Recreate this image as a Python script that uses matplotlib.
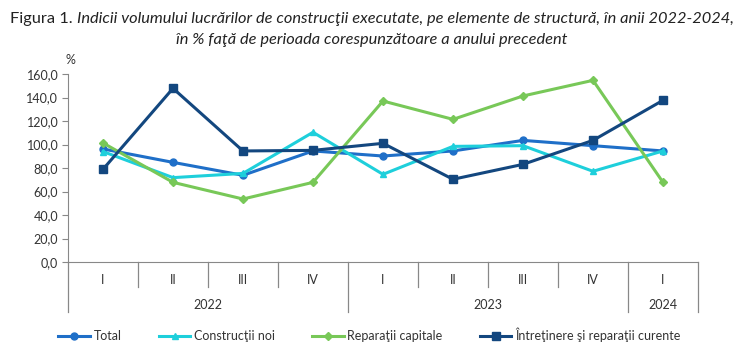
import matplotlib.pyplot as plt
from matplotlib.ticker import FuncFormatter

plt.rcParams['font.family'] = ['Lato', 'DejaVu Sans']

quarters = ['I', 'II', 'III', 'IV', 'I', 'II', 'III', 'IV', 'I']
years = ['2022', '2023', '2024']
year_spans = [(0, 4), (4, 8), (8, 9)]

total = [96.2, 84.8, 73.8, 94.5, 90.2, 94.5, 103.5, 99.0, 94.5]
constructii_noi = [94.0, 71.8, 75.4, 110.4, 74.6, 98.4, 99.0, 77.2, 94.5]
reparatii_capitale = [101.3, 67.8, 53.6, 67.8, 137.0, 121.4, 141.3, 154.6, 67.8]
intretinere = [78.9, 147.8, 94.5, 95.0, 101.0, 70.4, 83.1, 103.5, 137.6]

series = [
    ('Total', total, '#1F6FC8', 'o', 5),
    ('Construcţii noi', constructii_noi, '#1ECFDB', '^', 5),
    ('Reparaţii capitale', reparatii_capitale, '#78C858', 'D', 4),
    ('Întreţinere şi reparaţii curente', intretinere, '#13477F', 's', 6),
]

W, H = 739, 348
fig = plt.figure(figsize=(W / 100, H / 100), dpi=100)
ax = fig.add_axes([68 / W, 1 - 262 / H, 630 / W, 188 / H])

x = list(range(len(quarters)))
for name, vals, color, marker, ms in series:
    ax.plot(x, vals, color=color, lw=2.2, marker=marker, markersize=ms,
            label=name, zorder=3)

ax.set_xlim(-0.5, len(quarters) - 0.5)
ax.set_ylim(0, 160)
ax.set_yticks(range(0, 161, 20))
ax.yaxis.set_major_formatter(FuncFormatter(lambda v, p: f'{v:.1f}'.replace('.', ',')))
ax.tick_params(axis='y', direction='out', length=4, color='#888888',
               labelsize=9, labelcolor='#333333', pad=3)
ax.set_xticks([])
for s in ['top', 'right']:
    ax.spines[s].set_visible(False)
ax.spines['left'].set_color('#888888')
ax.spines['bottom'].set_color('#888888')

# multi-level category axis below the plot
tr = ax.get_xaxis_transform()
line_kw = dict(color='#888888', lw=0.9, transform=tr, clip_on=False)
q_low = -25 / 188
y_low = -50 / 188
year_edges = {a for a, b in year_spans} | {b for a, b in year_spans}
for i in range(len(quarters) + 1):
    bottom = y_low if i in year_edges else q_low
    ax.plot([i - 0.5, i - 0.5], [0, bottom], **line_kw)
for i, q in enumerate(quarters):
    ax.text(i, -18 / 188, q, transform=tr, ha='center', va='center',
            fontsize=9, color='#333333')
for yr, (a, b) in zip(years, year_spans):
    ax.text((a + b - 1) / 2, -43 / 188, yr, transform=tr, ha='center',
            va='center', fontsize=9, color='#333333')

fig.text(70 / W, 1 - 60 / H, '%', fontsize=9, color='#333333',
         ha='center', va='center')

# title: plain prefix followed by italic text, stretched to the full width
title_size = 10.5
fig.canvas.draw()
renderer = fig.canvas.get_renderer()
t1 = fig.text(10 / W, 1 - 19 / H, 'Figura 1. ', fontsize=title_size,
              color='#222222', ha='left', va='center')
t2 = fig.text(0, 1 - 19 / H,
              'Indicii volumului lucrărilor de construcţii executate, pe elemente de structură, în anii 2022-2024,',
              fontsize=title_size, style='italic', color='#222222',
              ha='left', va='center')
w1 = t1.get_window_extent(renderer).width
w2 = t2.get_window_extent(renderer).width
scale = 725 / (w1 + w2)
t1.set_fontsize(title_size * scale)
t2.set_fontsize(title_size * scale)
t2.set_x((10 + w1 * scale) / W)
fig.text(372 / W, 1 - 40 / H,
         'în % faţă de perioada corespunzătoare a anului precedent',
         fontsize=title_size * scale, style='italic', color='#222222',
         ha='center', va='center')

fig.legend(loc='center', bbox_to_anchor=(0.5, 1 - 335 / H), ncol=4,
           frameon=False, fontsize=9, handlelength=2.5, columnspacing=3,
           handletextpad=0.3, labelcolor='#333333')

fig.savefig('out.png', dpi=100)
